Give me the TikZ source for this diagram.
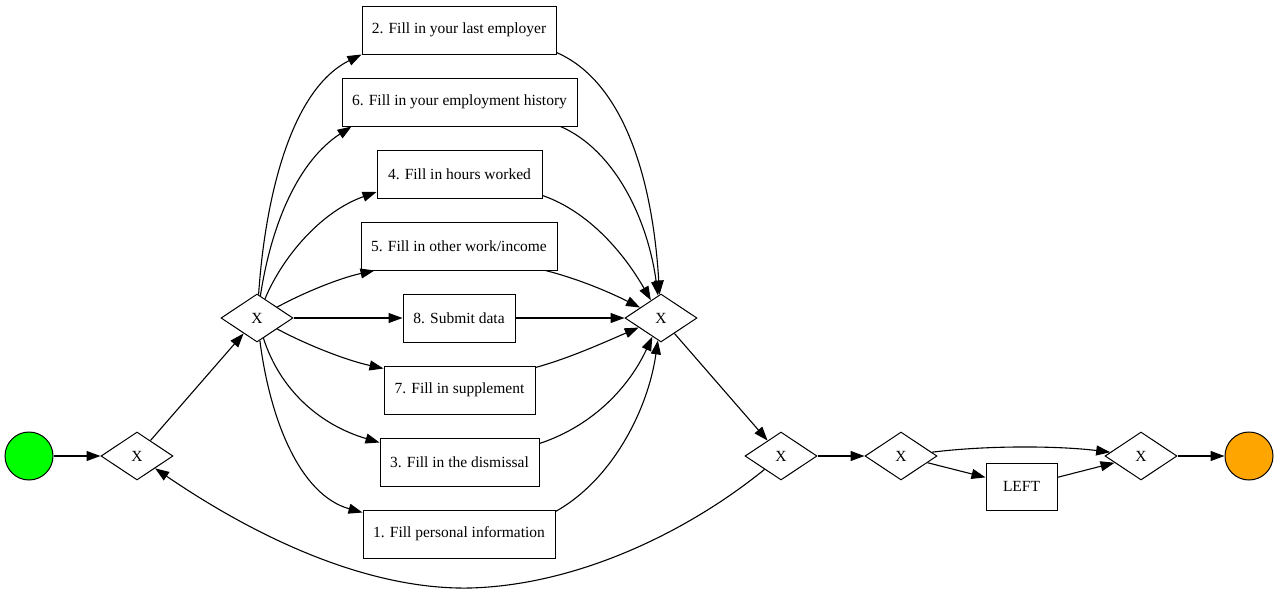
\documentclass[tikz,border=0pt]{standalone}
\usepackage{fontspec}
\setmainfont{Liberation Serif}
\usetikzlibrary{shapes.geometric,arrows.meta}
\begin{document}
\begin{tikzpicture}[x=1pt,y=-1pt,
  every node/.style={font=\fontsize{15.5}{18}\selectfont},
  task/.style={draw,line width=1pt,rectangle,minimum height=48pt,inner sep=0pt,fill=white},
  gw/.style={draw,line width=1pt,diamond,minimum width=72pt,minimum height=48pt,inner sep=0pt,fill=white},
  ev/.style={draw,line width=1pt,circle,minimum size=48pt,inner sep=0pt},
  flow/.style={line width=1.1pt,-{Triangle[length=14pt,width=10pt]}}]
\useasboundingbox (0,0) rectangle (1279,595);
\definecolor{startgreen}{RGB}{0,255,0}
\definecolor{endorange}{RGB}{255,165,0}
% events
\node[ev,fill=startgreen] (s) at (29,456) {};
\node[ev,fill=endorange] (e) at (1249,456) {};
% gateways
\node[gw] (g1) at (137,456) {X};
\node[gw] (g2) at (257,318) {X};
\node[gw] (j) at (661,318) {X};
\node[gw] (g4) at (781,456) {X};
\node[gw] (g5) at (901,456) {X};
\node[gw] (g6) at (1141,456) {X};
% tasks
\node[task,minimum width=194pt] (t2) at (459,30) {2. Fill in your last employer};
\node[task,minimum width=235pt] (t6) at (459.5,102) {6. Fill in your employment history};
\node[task,minimum width=165pt] (t4) at (459.5,174) {4. Fill in hours worked};
\node[task,minimum width=196pt] (t5) at (459,246) {5. Fill in other work/income};
\node[task,minimum width=112pt] (t8) at (459,318) {8. Submit data};
\node[task,minimum width=151pt] (t7) at (459.5,390) {7. Fill in supplement};
\node[task,minimum width=159pt] (t3) at (459.5,462) {3. Fill in the dismissal};
\node[task,minimum width=192pt] (t1) at (459,534) {1. Fill personal information};
\node[task,minimum width=71pt,minimum height=47pt] (left) at (1021.5,486.5) {LEFT};
\coordinate (lp) at (470,588);
% flows
\draw[flow] (s) -- (g1);
\draw[flow] (g1) -- (g2);
\draw[flow] (g2) .. controls (265,200) and (290,90) .. (t2.south west);
\draw[flow] (g2) .. controls (272,220) and (300,160) .. ([xshift=10pt]t6.south west);
\draw[flow] (g2) .. controls (282,258) and (320,212) .. ([yshift=-18pt]t4.west);
\draw[flow] (g2) .. controls (305,292) and (340,278) .. ([xshift=14pt]t5.south west);
\draw[flow] (g2) -- (t8);
\draw[flow] (g2) .. controls (305,344) and (345,360) .. ([yshift=-3pt]t7.north west);
\draw[flow] (g2) .. controls (280,390) and (320,425) .. ([yshift=-5pt]t3.north west);
\draw[flow] (g2) .. controls (270,420) and (300,495) .. ([yshift=-3pt]t1.north west);
\draw[flow] ([yshift=2pt]t2.south east) .. controls (620,80) and (652,170) .. (j);
\draw[flow] ([xshift=-17pt]t6.south east) .. controls (615,150) and (648,220) .. (j);
\draw[flow] ([yshift=3pt]t4.south east) .. controls (590,212) and (625,255) .. (j);
\draw[flow] ([xshift=-12pt]t5.south east) .. controls (575,278) and (605,290) .. (j);
\draw[flow] (t8) -- (j);
\draw[flow] ([yshift=-2pt]t7.north east) .. controls (570,358) and (605,342) .. (j);
\draw[flow] ([yshift=-6pt]t3.north east) .. controls (595,425) and (630,385) .. (j);
\draw[flow] ([yshift=-2pt]t1.north east) .. controls (612,480) and (648,410) .. (j);
\draw[flow] (j) -- (g4);
\draw[flow] (g4) -- (g5);
\draw[flow] (g5) .. controls (990,445) and (1060,446) .. (g6);
\draw[flow] (g5) -- (left);
\draw[flow] (left) -- (g6);
\draw[flow] (g6) -- (e);
\draw[flow] (g4) .. controls (690,530) and (580,585) .. (lp) .. controls (370,590) and (260,540) .. (g1);
\end{tikzpicture}
\end{document}
